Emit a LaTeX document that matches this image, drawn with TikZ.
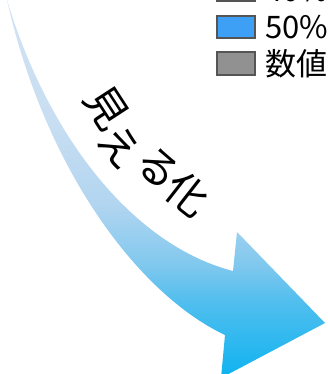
\documentclass[tikz,border=0pt]{standalone}
\usepackage{fontspec}
\newfontfamily\jp{Noto Sans CJK JP}
\definecolor{c0}{RGB}{210,226,243}
\definecolor{c1}{RGB}{200,222,242}
\definecolor{c2}{RGB}{178,213,240}
\definecolor{c3}{RGB}{128,200,238}
\definecolor{c4}{RGB}{80,190,238}
\definecolor{c5}{RGB}{14,179,240}
\definecolor{swblue}{RGB}{62,160,245}
\definecolor{swgray}{RGB}{145,145,145}
\definecolor{swline}{RGB}{85,85,85}
\pgfdeclareverticalshading{arrowshade}{100bp}{color(0bp)=(c5); color(25bp)=(c5); color(35bp)=(c4); color(40bp)=(c3); color(48bp)=(c2); color(59bp)=(c1); color(75bp)=(c0); color(100bp)=(c0)}
\tikzset{
  swatch/.style={draw=swline, line width=1.5pt},
  legtext/.style={anchor=west, inner sep=0pt, font=\jp\fontsize{31}{33}\selectfont},
  bigchar/.style={inner sep=0pt, font=\jp\fontsize{42}{44}\selectfont}
}
\begin{document}
\begin{tikzpicture}[x=1pt,y=1pt]
\useasboundingbox (0,0) rectangle (327,374);
\clip (0,0) rectangle (327,374);
% arrow
\coordinate (T) at (7,374);
\coordinate (O) at (225,39);
\coordinate (L) at (221,-4);
\coordinate (P) at (325,51);
\coordinate (U) at (237,142);
\coordinate (I) at (233,103);
\shade[shading=arrowshade] (T) .. controls (45,205) and (138,80) .. (O) -- (L) -- (P) -- (U) -- (I) .. controls (136,128) and (50,232) .. (T) -- cycle;
% text
\node[bigchar, rotate=-57] (k1) at (107,266) {見};
\node[bigchar, rotate=-50] (k2) at (120,227) {え};
\node[bigchar, rotate=-43] (k3) at (158,206) {る};
\node[bigchar, rotate=-38] (k4) at (188,180) {化};
% legend
\draw[swatch, fill=swgray] (217,373) rectangle (255,395);
\node[legtext] (t1) at (265,384) {40\%};
\draw[swatch, fill=swblue] (217,336) rectangle (255,358);
\node[legtext] (t2) at (265,347) {50\%};
\draw[swatch, fill=swgray] (217,299) rectangle (255,322);
\node[legtext] (t3) at (265,310.5) {数値};
\end{tikzpicture}
\end{document}
